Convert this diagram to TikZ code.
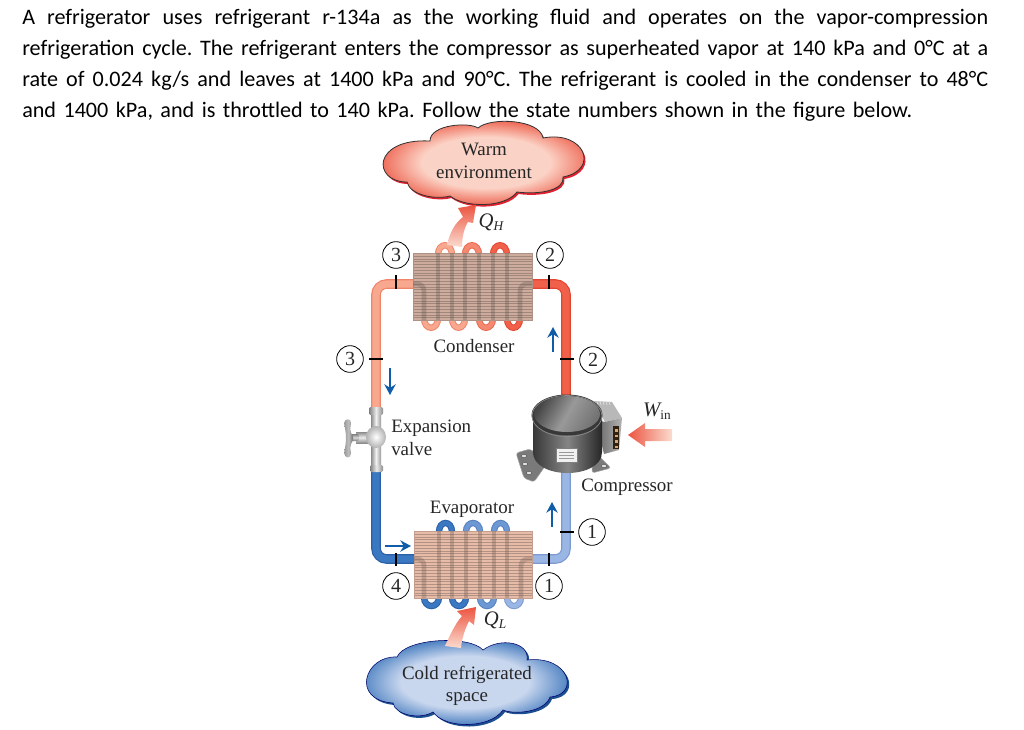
\documentclass[tikz,border=0pt]{standalone}
\usepackage{fontspec}
\setmainfont{Liberation Serif}
\newfontfamily\parafont{Carlito}
\usetikzlibrary{arrows.meta}
\definecolor{warmout}{HTML}{EC5440}
\definecolor{warmin}{HTML}{FBD3C6}
\definecolor{warmshadow}{HTML}{E0202E}
\definecolor{coldout}{HTML}{2E6CB6}
\definecolor{coldin}{HTML}{C8D6EE}
\definecolor{coldshadow}{HTML}{1C4E92}
\definecolor{flowblue}{HTML}{0F5CA8}
\definecolor{salmon}{HTML}{F9A890}
\definecolor{salmonedge}{HTML}{EE8468}
\definecolor{hotred}{HTML}{F0604A}
\definecolor{hotedge}{HTML}{E2452F}
\definecolor{deepblue}{HTML}{3A78C2}
\definecolor{deepedge}{HTML}{2A60A8}
\definecolor{paleblue}{HTML}{9AB6E4}
\definecolor{paleedge}{HTML}{7C9AD0}
\definecolor{midorange}{HTML}{F48870}
\definecolor{midorangeedge}{HTML}{E86A50}
\definecolor{midblue}{HTML}{6E98D4}
\definecolor{midblueedge}{HTML}{5480BE}
\definecolor{palered}{HTML}{FBDCD0}
\definecolor{condbox}{HTML}{CDAC9E}
\definecolor{evapbox}{HTML}{E6BBA8}
\pgfdeclareradialshading{warmcloud}{\pgfpoint{0bp}{0bp}}{color(0bp)=(warmin); color(14bp)=(warmin); color(25bp)=(warmout); color(50bp)=(warmout)}
\pgfdeclareradialshading{coldcloud}{\pgfpoint{0bp}{0bp}}{color(0bp)=(coldin); color(14bp)=(coldin); color(25bp)=(coldout); color(50bp)=(coldout)}
\newcommand{\warmpath}{(407,182) .. controls (372,182) and (372,138) .. (430,141) .. controls (430,124) and (470,122) .. (478,128) .. controls (490,117) and (540,119) .. (543,138) .. controls (585,130) and (600,170) .. (563,177) .. controls (565,190) and (540,195) .. (517,192) .. controls (505,208) and (465,208) .. (450,196) .. controls (435,200) and (410,195) .. (407,182) -- cycle}
\newcommand{\coldpath}{(397,657) .. controls (405,638) and (470,635) .. (483,650) .. controls (500,637) and (530,642) .. (527,660) .. controls (570,655) and (580,695) .. (550,697) .. controls (545,712) and (515,715) .. (503,710) .. controls (490,729) and (445,729) .. (433,712) .. controls (420,720) and (395,715) .. (393,703) .. controls (350,700) and (365,655) .. (397,657) -- cycle}
% #1 left x, #2 right x, #3 base y, #4 control y, #5 edge, #6 inner
\newcommand{\coilloop}[6]{\draw[tube,draw=#5,double=#6] (#1,#3) .. controls (#1,#4) and (#2,#4) .. (#2,#3);}
\tikzset{
 tube/.style={line width=.75pt,double distance=3.3pt},
 ghost/.style={line width=3.6pt,opacity=.3},
 pipe/.style={line width=.9pt,double distance=5.4pt,rounded corners=8pt},
 tick/.style={draw=black,line width=1.7pt},
 statenum/.style={circle,draw=black,line width=.6pt,fill=white,minimum size=20pt,inner sep=0pt,font=\fontsize{15}{16}\selectfont,text=black!85},
 lbl/.style={font=\fontsize{14.2}{16}\selectfont,text=black!85,inner sep=0pt},
 sym/.style={font=\fontsize{15.5}{17}\selectfont\itshape,text=black!85,inner sep=0pt},
 flow/.style={draw=flowblue,line width=1.9pt,-{Stealth[length=8pt,width=8.5pt]}},
 para/.style={anchor=base west,inner sep=0pt,font=\parafont\fontsize{16.6}{19}\selectfont,text=black},
 fin/.style={line width=.4pt},
 footplate/.style={fill=black!52,draw=black!35,line width=.4pt,rounded corners=2pt}
}
\newcommand{\subsym}[1]{\raisebox{-.35ex}{\fontsize{10}{10}\selectfont #1}}
\begin{document}
\frenchspacing
\begin{tikzpicture}[x=.75pt,y=-.75pt]
\useasboundingbox (0,0) rectangle (1024,729);
% paragraph
\node[para] (line1) at (22,24) {\makebox[724.5pt][s]{A refrigerator uses refrigerant r-134a as the working fluid and operates on the vapor-compression}};
\node[para] (line2) at (22,55) {\makebox[724.5pt][s]{refrigeration cycle. The refrigerant enters the compressor as superheated vapor at 140 kPa and 0°C at a}};
\node[para] (line3) at (22,86) {\makebox[724.5pt][s]{rate of 0.024 kg/s and leaves at 1400 kPa and 90°C. The refrigerant is cooled in the condenser to 48°C}};
\node[para] (line4) at (22,117) {\makebox[667.5pt][s]{and 1400 kPa, and is throttled to 140 kPa. Follow the state numbers shown in the figure below.}};
% warm cloud
\fill[warmshadow,shift={(1.5,2)}] \warmpath;
\path[shading=warmcloud] \warmpath;
\draw[black!80,line width=.6pt] \warmpath;
\node[lbl] (warm1) at (484,149) {Warm};
\node[lbl] (warm2) at (484,172) {environment};
% cold cloud
\fill[coldshadow,shift={(2,2)}] \coldpath;
\path[shading=coldcloud] \coldpath;
\draw[black!60!blue,line width=.4pt] \coldpath;
\node[lbl] (cold1) at (467,675) {Cold refrigerated};
\node[lbl] (cold2) at (467,699) {space};
% named pipe points
\coordinate (cl) at (424,284); \coordinate (cr) at (520,284);
\coordinate (el) at (424,559); \coordinate (er) at (520,559);
\coordinate (ltop) at (376,284); \coordinate (rtop) at (566,284);
\coordinate (lbot) at (376,559); \coordinate (rbot) at (566,559);
\coordinate (vtop) at (376,412); \coordinate (vbot) at (376,470);
\coordinate (ctop) at (566,400); \coordinate (cbot) at (566,468);
% pipes
\draw[pipe,draw=salmonedge,double=salmon] (cl) -- (ltop) -- (vtop);
\draw[pipe,draw=hotedge,double=hotred] (cr) -- (rtop) -- (ctop);
\draw[pipe,draw=deepedge,double=deepblue] (vbot) -- (lbot) -- (el);
\draw[pipe,draw=paleedge,double=paleblue] (cbot) -- (rbot) -- (er);
% condenser coil loops
\coilloop{424}{438}{318}{331}{salmonedge}{salmon}
\coilloop{438}{452}{255}{242}{salmonedge}{salmon}
\coilloop{452}{465}{318}{331}{salmonedge}{salmon}
\coilloop{465}{479}{255}{242}{midorangeedge}{midorange}
\coilloop{479}{493}{318}{331}{midorangeedge}{midorange}
\coilloop{493}{507}{255}{242}{hotedge}{hotred}
\coilloop{507}{520}{318}{331}{hotedge}{hotred}
% condenser fins
\fill[condbox] (413,253) rectangle (532,320);
\foreach \fy in {256,258.8,...,320}{\draw[fin,draw=black!22!condbox] (413,\fy) -- (532,\fy);}
\draw[condbox!85!black,line width=.4pt] (413,253) rectangle (532,320);
% condenser coil seen through the fins
\foreach \cx in {438,452,465,479,493,507}{\draw[ghost,draw=black!55!condbox] (\cx,253) -- (\cx,320);}
\draw[ghost,draw=black!55!condbox,rounded corners=5pt] (413,284) -- (424,284) -- (424,320);
\draw[ghost,draw=black!55!condbox,rounded corners=5pt] (532,284) -- (520,284) -- (520,320);
% evaporator coil loops
\coilloop{424}{439}{597}{609}{deepedge}{deepblue}
\coilloop{439}{452}{532}{520}{deepedge}{deepblue}
\coilloop{452}{466}{597}{609}{deepedge}{deepblue}
\coilloop{466}{480}{532}{520}{midblueedge}{midblue}
\coilloop{480}{494}{597}{609}{midblueedge}{midblue}
\coilloop{494}{507}{532}{520}{midblueedge}{midblue}
\coilloop{507}{521}{597}{609}{paleedge}{paleblue}
% evaporator fins
\fill[evapbox] (414,531) rectangle (532,598);
\foreach \fy in {534,536.8,...,598}{\draw[fin,draw=black!22!evapbox] (414,\fy) -- (532,\fy);}
\draw[evapbox!85!black,line width=.4pt] (414,531) rectangle (532,598);
\foreach \cx in {439,452,466,480,494,507}{\draw[ghost,draw=black!55!evapbox] (\cx,531) -- (\cx,598);}
\draw[ghost,draw=black!55!evapbox,rounded corners=5pt] (414,559) -- (424,559) -- (424,598);
\draw[ghost,draw=black!55!evapbox,rounded corners=5pt] (532,559) -- (521,559) -- (521,598);
% heat arrows
\path[top color=warmout,bottom color=palered] (447,245) .. controls (450,232) and (455,223) .. (463,217) -- (458,208) -- (476,205) -- (473,223) -- (468,222) .. controls (464,228) and (462,238) .. (462,247) -- cycle;
\path[top color=warmout,bottom color=palered] (445,646) .. controls (450,635) and (455,624) .. (462,616) -- (457,611) -- (476,607) -- (474,625) -- (469,621) .. controls (465,629) and (462,638) .. (461,648) -- cycle;
\path[left color=warmout,right color=palered] (628,435) -- (645,423) -- (645,429) -- (672,429) -- (672,441) -- (645,441) -- (645,447) -- cycle;
% ticks
\draw[tick] (396,275) -- (396,289);
\draw[tick] (549,275) -- (549,289);
\draw[tick] (369,359) -- (383,359);
\draw[tick] (560,359) -- (574,359);
\draw[tick] (396,553) -- (396,566);
\draw[tick] (549,553) -- (549,566);
\draw[tick] (560,532) -- (574,532);
% state numbers
\node[statenum] (s3a) at (396,255) {3};
\node[statenum] (s2a) at (550,255) {2};
\node[statenum] (s3b) at (350,359) {3};
\node[statenum] (s2b) at (593,360) {2};
\node[statenum] (s1a) at (592,532) {1};
\node[statenum] (s4) at (396,586) {4};
\node[statenum] (s1b) at (549,586) {1};
% flow arrows
\coordinate (fa1) at (390,368); \coordinate (fa2) at (390,395);
\coordinate (fb1) at (553,352); \coordinate (fb2) at (553,327);
\coordinate (fc1) at (552,527); \coordinate (fc2) at (552,502);
\coordinate (fd1) at (385,546); \coordinate (fd2) at (411,546);
\draw[flow] (fa1) -- (fa2);
\draw[flow] (fb1) -- (fb2);
\draw[flow] (fc1) -- (fc2);
\draw[flow] (fd1) -- (fd2);
% expansion valve
\path[left color=black!45,right color=black!40,middle color=black!5] (371,414) rectangle (381,466);
\path[left color=black!50,right color=black!45,middle color=black!8,rounded corners=1pt] (369,407) rectangle (383,415);
\path[left color=black!50,right color=black!45,middle color=black!8,rounded corners=1pt] (370,465) rectangle (383,472);
\path[top color=black!45,bottom color=black!45,middle color=black!8] (356,432) rectangle (369,443);
\path[top color=black!50,bottom color=black!50,middle color=black!15,rounded corners=1.5pt] (350,434) rectangle (359,441);
\path[inner color=white,outer color=black!30] (376,437) ellipse (10 and 11);
\path[left color=black!40,right color=black!55,middle color=black!25] (344,423) .. controls (345,418) and (351,418) .. (351,423) .. controls (350,430) and (350,432) .. (353,436) -- (353,440) .. controls (350,445) and (350,448) .. (351,453) .. controls (351,459) and (345,459) .. (344,453) .. controls (345,448) and (346,443) .. (346,438) .. controls (346,433) and (345,428) .. (344,423) -- cycle;
% compressor
\path[footplate] (516,453) -- (530,449) -- (548,462) -- (534,482) -- (524,478) -- cycle;
\path[footplate] (593,450) -- (611,468) -- (592,473) -- cycle;
\foreach \hx/\hy in {524/456,525/464,529/473,598/458,604/466}{\fill[black!12,draw=black!70,line width=.3pt] (\hx,\hy) ellipse (2.6 and 1.7);}
\fill[black!28] (594,401) -- (612,402) -- (622,418) -- (605,422) -- cycle;
\foreach \rx in {597,600,603,606,609}{\draw[black!12,line width=.5pt] (\rx,401) -- (\rx+1,405);}
\path[left color=black!60,right color=black!30] (596,420) -- (605,422) -- (622,418) -- (619,450) -- (604,454) -- cycle;
\fill[black!75!brown] (613,426) rectangle (619,449);
\foreach \ty in {429,434.5,440,445.5}{\fill[brown!70!white] (614.5,\ty) rectangle (617.5,\ty+2.8);}
\path[left color=black!78,right color=black!85,middle color=black!48] (533,416) -- (533,452) .. controls (533,480) and (602,480) .. (602,452) -- (602,416) -- cycle;
\fill[black!78] (567,415) ellipse (35.5 and 20.5);
\draw[black!45,line width=.5pt] (567,416) ellipse (35 and 20.5);
\path[left color=black!72,right color=black!55,middle color=black!40,shading angle=60] (567,414) ellipse (33 and 18);
\fill[black!6,draw=black!50,line width=.3pt] (556,448) rectangle (577,462);
\foreach \ly in {452,455,458}{\draw[black!40,line width=.5pt] (559,\ly) -- (574,\ly);}
% labels
\node[lbl] (condenser) at (474,346) {Condenser};
\node[lbl,anchor=west] (exp1) at (391,428) {Expansion};
\node[lbl,anchor=west] (exp2) at (391,449) {valve};
\node[lbl] (evaporator) at (472,509) {Evaporator};
\node[lbl] (compressor) at (627,487) {Compressor};
\node[sym] (qh) at (491,222) {Q\subsym{H}};
\node[sym] (ql) at (495,620) {Q\subsym{L}};
\node[sym] (win) at (657,411) {W\subsym{\upshape in}};
\end{tikzpicture}
\end{document}
